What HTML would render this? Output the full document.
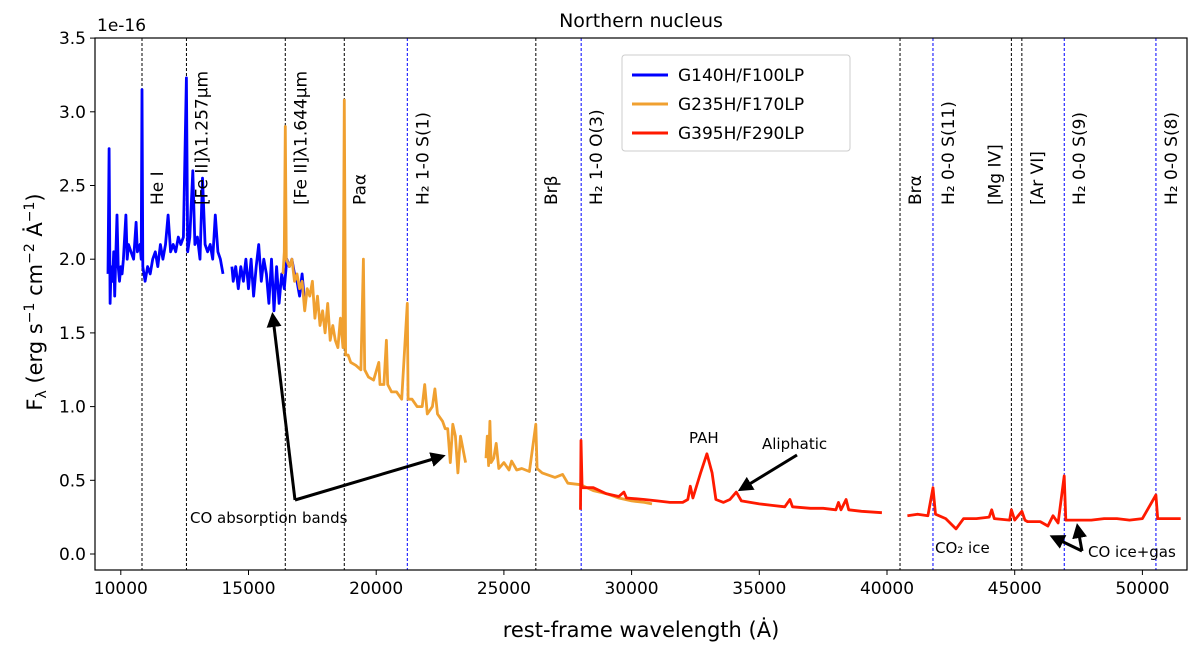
<!DOCTYPE html>
<html><head><meta charset="utf-8"><style>
body{margin:0;background:#fff;}
svg text{font-family:"DejaVu Sans","Liberation Sans",sans-serif;}
</style></head><body>
<svg id="chart" width="1200" height="650" xmlns="http://www.w3.org/2000/svg">
<defs><marker id="ah" markerWidth="8" markerHeight="8" refX="6" refY="4" orient="auto" markerUnits="userSpaceOnUse"><path d="M0,0 L8,4 L0,8 z" fill="#000"/></marker></defs>
<g id="grid"></g><g id="series"></g><g id="labels"></g>
</svg>
<script>
const yTicks=[0.0,0.5,1.0,1.5,2.0,2.5,3.0,3.5];
const xTicks=[10000,15000,20000,25000,30000,35000,40000,45000,50000];
const lineWl=[10830,12570,16440,18750,21218,26250,28025,40510,41800,44870,45280,46940,50530];
const lineColors=['k','k','k','k','b','k','b','k','b','k','k','b','b'];
const lineNames=['He I','[Fe II]λ1.257μm','[Fe II]λ1.644μm','Paα','H₂ 1-0 S(1)','Brβ','H₂ 1-0 O(3)','Brα','H₂ 0-0 S(11)','[Mg IV]','[Ar VI]','H₂ 0-0 S(9)','H₂ 0-0 S(8)'];
const blue1Wl=[9500,9540,9580,9620,9680,9720,9760,9800,9850,9900,9950,10000,10050,10100,10200,10250,10300,10400,10500,10600,10650,10750,10800,10830,10860,10950,11050,11150,11250,11350,11450,11550,11650,11750,11850,11950,12050,12150,12250,12350,12450,12570,12620,12700,12820,12900,13000,13100,13200,13300,13400,13500,13600,13700,13800,13900,14000];
const blue1F=[1.9,2.75,1.7,1.95,1.85,2.05,1.75,2.0,2.3,1.95,1.85,1.95,1.9,2.0,2.3,2.0,2.1,2.05,2.0,2.25,2.05,2.1,2.0,3.15,1.95,1.85,1.95,1.9,2.0,2.05,1.95,2.1,2.0,2.1,2.3,2.05,2.1,2.05,2.15,2.1,2.15,3.23,2.05,2.15,2.6,2.1,2.15,2.0,2.55,2.1,2.05,2.1,2.0,2.3,2.05,2.0,1.9];
const blue2Wl=[14350,14400,14500,14600,14700,14800,14900,15000,15100,15200,15300,15400,15500,15600,15700,15800,15900,16000,16100,16200,16300,16400,16500,16600,16700,16800,16900,17000,17100,17200];
const blue2F=[1.95,1.85,1.95,1.8,1.95,1.85,2.0,1.8,2.0,1.75,1.95,2.1,1.85,2.0,1.9,1.7,2.0,1.65,1.95,1.7,1.9,1.8,2.0,1.95,2.0,1.9,1.85,1.75,1.9,1.7];
const orange1Wl=[16350,16400,16440,16480,16600,16700,16800,16900,17000,17100,17200,17300,17400,17500,17600,17700,17800,17900,18000,18100,18200,18300,18400,18500,18600,18700,18750,18800,18900,19000,19200,19400,19500,19550,19700,19900,20100,20150,20300,20400,20450,20600,20800,21000,21218,21250,21400,21600,21800,21900,22000,22200,22300,22400,22600,22700,22800,22900,23000,23100,23200,23300,23500];
const orange1F=[1.9,2.05,2.9,2.0,1.95,2.0,1.85,1.9,1.8,1.85,1.65,1.8,1.75,1.85,1.6,1.75,1.55,1.65,1.5,1.7,1.45,1.55,1.45,1.4,1.6,1.4,3.08,1.35,1.35,1.3,1.28,1.25,2.0,1.25,1.2,1.18,1.3,1.15,1.15,1.45,1.15,1.1,1.1,1.05,1.7,1.05,1.05,1.0,1.0,1.15,0.95,1.0,1.12,0.95,0.9,0.85,0.85,0.62,0.88,0.8,0.55,0.8,0.62];
const orange2Wl=[24300,24350,24400,24450,24500,24600,24700,24800,25000,25200,25300,25500,25700,26000,26250,26300,26500,27000,27300,27500,28000,28500,29000,29500,30000,30500,30800];
const orange2F=[0.65,0.8,0.6,0.9,0.62,0.65,0.75,0.58,0.62,0.57,0.63,0.57,0.58,0.56,0.88,0.58,0.55,0.52,0.54,0.48,0.47,0.43,0.41,0.38,0.36,0.35,0.34];
const red1Wl=[28000,28020,28060,28500,29000,29500,29700,29800,30500,31000,31500,32000,32200,32300,32400,32700,32950,33150,33300,33600,33850,34100,34300,35000,35500,36000,36200,36300,37000,37500,38000,38100,38200,38400,38500,39000,39800];
const red1F=[0.3,0.77,0.45,0.45,0.41,0.39,0.42,0.38,0.37,0.36,0.35,0.35,0.37,0.46,0.38,0.55,0.68,0.55,0.37,0.35,0.37,0.42,0.36,0.34,0.33,0.32,0.37,0.32,0.31,0.31,0.3,0.35,0.3,0.37,0.3,0.29,0.28];
const red2Wl=[40800,41200,41600,41800,41900,42300,42700,43000,43500,44000,44100,44200,44800,44870,45000,45280,45400,45500,46000,46300,46500,46700,46940,47000,47500,48000,48500,49000,49500,50000,50530,50600,51000,51500];
const red2F=[0.26,0.27,0.26,0.45,0.27,0.24,0.17,0.24,0.24,0.25,0.3,0.24,0.23,0.3,0.23,0.29,0.23,0.22,0.22,0.19,0.26,0.21,0.53,0.23,0.23,0.23,0.24,0.24,0.23,0.24,0.4,0.24,0.24,0.24];

const L=95,R=1187,T=38,B=570;
const X=w=>142+(w-10830)*0.02554;
const Y=f=>554-f*147.4;
const NS='http://www.w3.org/2000/svg';
function mk(tag,at,parent,txt){const e=document.createElementNS(NS,tag);for(const k in at)e.setAttribute(k,at[k]);if(txt!==undefined)e.textContent=txt;parent.appendChild(e);return e;}
const grid=document.getElementById('grid'),ser=document.getElementById('series'),lab=document.getElementById('labels');

lineWl.forEach((w,i)=>{
  const l=mk('line',{x1:X(w),x2:X(w),y1:T,y2:B,stroke:lineColors[i]=='b'?'#0000ff':'#000','stroke-width':1,'stroke-dasharray':'3,2'},grid);
  
  
  let off=21;
  if(lineNames[i]==='[Mg IV]') off=-11;
  const tx=X(w)+off,ty=205;
  const t=mk('text',{x:tx,y:ty,transform:`rotate(-90 ${tx} ${ty})`,'font-size':17,fill:'#000'},lab,lineNames[i]);
  
  
});

function drawSeries(wl,f,color,name){
  const d=wl.map((w,i)=>(i?'L':'M')+X(w).toFixed(1)+','+Y(f[i]).toFixed(1)).join('');
  const p=mk('path',{d:d,fill:'none',stroke:color,'stroke-width':2.8,'stroke-linejoin':'round'},ser);
  
  
}
drawSeries(blue1Wl,blue1F,'#0000ff','g140h-series-a');
drawSeries(blue2Wl,blue2F,'#0000ff','g140h-series-b');
drawSeries(orange1Wl,orange1F,'#f0a030','g235h-series-a');
drawSeries(orange2Wl,orange2F,'#f0a030','g235h-series-b');
drawSeries(red1Wl,red1F,'#ff1a00','g395h-series-a');
drawSeries(red2Wl,red2F,'#ff1a00','g395h-series-b');

const fr=mk('rect',{x:L,y:T,width:R-L,height:B-T,fill:'none',stroke:'#000','stroke-width':1.2},lab);


yTicks.forEach(v=>{
  mk('line',{x1:L-5,x2:L,y1:Y(v),y2:Y(v),stroke:'#000'},lab);
  const t=mk('text',{x:L-9,y:Y(v)+6,'text-anchor':'end','font-size':17},lab,v.toFixed(1));
  
  
});
xTicks.forEach(v=>{
  mk('line',{x1:X(v),x2:X(v),y1:B,y2:B+5,stroke:'#000'},lab);
  const t=mk('text',{x:X(v),y:B+24,'text-anchor':'middle','font-size':17},lab,String(v));
  
  
});
</script>
<svg style="position:absolute;left:0;top:0" width="1200" height="650">
<defs><marker id="ah2" markerWidth="5" markerHeight="5" refX="3" refY="2.5" orient="auto"><path d="M0,0 L5,2.5 L0,5 z" fill="#000" stroke="none"/></marker></defs>
<text x="641" y="27" text-anchor="middle" font-size="19">Northern nucleus</text>
<text x="97" y="31" font-size="17">1e-16</text>
<text x="42" y="302" transform="rotate(-90 42 302)" text-anchor="middle" font-size="21">F<tspan font-size="14" dy="4">λ</tspan><tspan dy="-4"> (erg s</tspan><tspan font-size="14" dy="-8">−1</tspan><tspan dy="8"> cm</tspan><tspan font-size="14" dy="-8">−2</tspan><tspan dy="8"> Ȧ</tspan><tspan font-size="14" dy="-8">−1</tspan><tspan dy="8">)</tspan></text>
<text x="641" y="637" text-anchor="middle" font-size="21">rest-frame wavelength (Ȧ)</text>
<g>
<rect x="622" y="55" width="228" height="96" rx="3" fill="#fff" stroke="#ccc"/>
<line x1="632" y1="75" x2="668" y2="75" stroke="#0000ff" stroke-width="3"/><text x="678" y="81" font-size="17">G140H/F100LP</text>
<line x1="632" y1="104" x2="668" y2="104" stroke="#f0a030" stroke-width="3"/><text x="678" y="110" font-size="17">G235H/F170LP</text>
<line x1="632" y1="133" x2="668" y2="133" stroke="#ff1a00" stroke-width="3"/><text x="678" y="139" font-size="17">G395H/F290LP</text>
</g>
<g stroke="#000" stroke-width="3" fill="none">
<line x1="295" y1="500" x2="273" y2="318" marker-end="url(#ah2)"/>
<line x1="295" y1="500" x2="440" y2="457" marker-end="url(#ah2)"/>
<line x1="797" y1="455" x2="743" y2="488" marker-end="url(#ah2)"/>
<line x1="1082" y1="551" x2="1055" y2="538" marker-end="url(#ah2)"/>
<line x1="1082" y1="551" x2="1078" y2="529" marker-end="url(#ah2)"/>
</g>
<text x="190" y="523" font-size="15">CO absorption bands</text>
<text x="689" y="443" font-size="15">PAH</text>
<text x="762" y="449" font-size="15">Aliphatic</text>
<text x="935" y="553" font-size="15">CO₂ ice</text>
<text x="1088" y="557" font-size="15">CO ice+gas</text>
</svg>
</body></html>
